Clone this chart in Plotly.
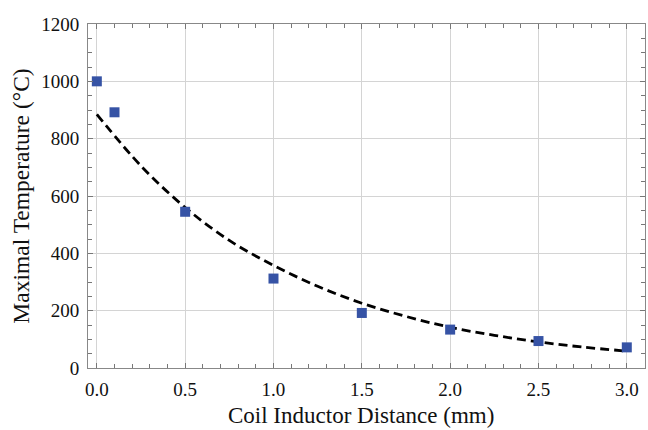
import plotly.graph_objects as go

distance_mm = [0.0, 0.1, 0.5, 1.0, 1.5, 2.0, 2.5, 3.0]
max_temp_c = [1000, 892, 545, 312, 192, 134, 94, 72]

fit_x = [0.0, 0.25, 0.5, 0.75, 1.0, 1.25, 1.5, 1.75, 2.0, 2.25, 2.5, 2.75, 3.0]
fit_y = [885, 705, 560, 445, 358, 285, 226, 180, 142, 114, 91, 73, 59]

x_ticks = [0.0, 0.5, 1.0, 1.5, 2.0, 2.5, 3.0]
x_tick_labels = ["0.0", "0.5", "1.0", "1.5", "2.0", "2.5", "3.0"]
y_ticks = [0, 200, 400, 600, 800, 1000, 1200]

font_family = "Liberation Serif"

fig = go.Figure()
fig.add_trace(go.Scatter(
    x=fit_x, y=fit_y, mode="lines",
    line=dict(color="black", width=2.8, dash="9px,5px", shape="spline"),
    showlegend=False, hoverinfo="skip"))
fig.add_trace(go.Scatter(
    x=distance_mm, y=max_temp_c, mode="markers",
    marker=dict(symbol="square", size=10, color="#3653a5"),
    showlegend=False))

axis_common = dict(
    showline=True, linecolor="#888888", linewidth=1, mirror="allticks",
    showgrid=True, gridcolor="#d4d4d4", gridwidth=1,
    ticks="inside", ticklen=5, tickcolor="#777777", tickwidth=1,
    zeroline=False,
    tickfont=dict(family=font_family, size=19, color="#111111"),
)

fig.update_xaxes(
    **axis_common,
    range=[-0.05, 3.103],
    tickvals=x_ticks, ticktext=x_tick_labels,
    minor=dict(dtick=0.1, ticks="inside", ticklen=4, tickcolor="#777777", showgrid=False),
    ticklabelstandoff=4,
)
fig.update_yaxes(
    **axis_common,
    range=[0, 1200],
    tickvals=y_ticks,
    minor=dict(dtick=50, ticks="inside", ticklen=4, tickcolor="#777777", showgrid=False),
    ticklabelstandoff=4,
    title=dict(text="Maximal Temperature (°C)", font=dict(family=font_family, size=23.5, color="#111111"), standoff=4),
)

fig.add_annotation(
    text="Coil Inductor Distance (mm)", xref="paper", yref="paper",
    x=0.49, y=-0.138, xanchor="center", yanchor="middle", showarrow=False,
    font=dict(family=font_family, size=23, color="#111111"))

fig.update_layout(
    width=648, height=430,
    margin=dict(l=88, r=3, t=24, b=62),
    paper_bgcolor="white", plot_bgcolor="white",
)

fig.write_html("out.html", config={"displayModeBar": False},
               post_script="document.body.style.margin='0px';document.body.style.overflow='hidden';")
